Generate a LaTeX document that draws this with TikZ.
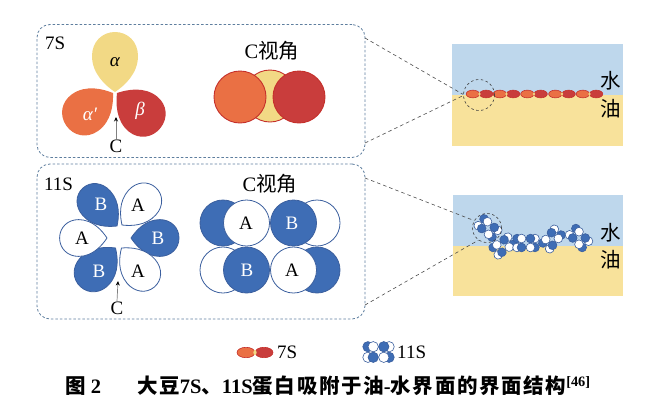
\documentclass[tikz,border=0pt]{standalone}
\usepackage{fontspec}
\setmainfont{Liberation Serif}
\newfontfamily\cjk{Noto Sans CJK SC}
\newfontfamily\cjkcap[LetterSpace=8]{Noto Sans CJK SC}
\usetikzlibrary{arrows.meta}

\definecolor{panelblue}{HTML}{5E7E9E}
\definecolor{lobeyellow}{HTML}{F2D985}
\definecolor{lobeorange}{HTML}{EA7044}
\definecolor{lobered}{HTML}{C93D3C}
\definecolor{edgered}{HTML}{C5302B}
\definecolor{subblue}{HTML}{3E6DB5}
\definecolor{edgeblue}{HTML}{3B5F9E}
\definecolor{waterblue}{HTML}{BED7EC}
\definecolor{oilyellow}{HTML}{F8E29B}

\tikzset{
  panel/.style={draw=panelblue,line width=.8pt,dash pattern=on 2.5pt off 2pt,rounded corners=13pt,inner sep=0pt},
  lens/.style={draw=black!75,circle,line width=.6pt,dash pattern=on 2.5pt off 2.5pt,inner sep=0pt},
  guide/.style={draw=black!70,line width=.6pt,dash pattern=on 3.5pt off 3pt},
  lbl/.style={font=\fontsize{19}{21}\selectfont,inner sep=0pt},
  cjklbl/.style={font=\fontsize{20.5}{23}\selectfont,inner sep=0pt},
  caplbl/.style={inner sep=0pt,anchor=west,font=\fontsize{20.5}{23}\selectfont\bfseries},
  discline/.style={line width=.8pt},
  bluedisc/.style={discline,draw=edgeblue,fill=subblue},
  whitedisc/.style={discline,draw=edgeblue,fill=white},
  upC/.style={draw=black!50,line width=.7pt,-{Stealth[black,length=4.5pt,width=4pt]}},
  lobe/.pic={
    \path[pic actions] (0,0) .. controls (6,-9) and (18,-23) .. (36,-23)
      .. controls (50,-23) and (60,-13) .. (60,0)
      .. controls (60,13) and (50,23) .. (36,23)
      .. controls (18,23) and (6,9) .. (0,0) -- cycle;
  },
  mol7/.pic={
    \draw[draw=edgered,line width=.6pt,fill=lobeorange] (-9,0) ellipse (9 and 5.2);
    \draw[draw=edgered,line width=.6pt,fill=lobered] (9,0) ellipse (9 and 5.2);
    \fill[lobeyellow] (0,0) ellipse (1.6 and 2.6);
  },
  mol11/.pic={
    \path[bluedisc] (-47,-23.5) circle (23);
    \path[whitedisc] (47,-23.5) circle (23);
    \path[whitedisc] (-47,23.5) circle (23);
    \path[bluedisc] (47,23.5) circle (23);
    \path[whitedisc] (-23.5,-23.5) circle (23);
    \path[bluedisc] (23.5,-23.5) circle (23);
    \path[bluedisc] (-23.5,23.5) circle (23);
    \path[whitedisc] (23.5,23.5) circle (23);
  }
}

\begin{document}
\begin{tikzpicture}[x=1pt,y=-1pt]
\useasboundingbox (0,0) rectangle (660,405);

% panels
\node[panel,minimum width=328pt,minimum height=133pt] (box7) at (201,91) {};
\node[panel,minimum width=328pt,minimum height=155pt] (box11) at (201,241.5) {};
\node[lbl,anchor=west] (name7) at (45,43) {7S};
\node[lbl,anchor=west] (name11) at (44,184) {11S};

% 7S lobes
\pic[fill=lobeyellow,rotate=90] at (115,92) {lobe};
\pic[fill=lobeorange,rotate=215,xscale=.95,yscale=.98] at (113,93) {lobe};
\pic[fill=lobered,rotate=-39,xscale=.93,yscale=.98] at (117,93) {lobe};
\node[lbl] (alpha) at (115,62) {\textit{α}};
\node[lbl,text=white] (alphap) at (90,114) {\textit{α′}};
\node[lbl,text=white] (beta) at (140,111) {\textit{β}};
\node[lbl] (c7) at (116,146) {C};
\coordinate (tip7) at (116,117);
\draw[upC] (c7.north) -- (tip7);

% 7S view from C
\node[cjklbl] (view7) at (272,51) {C{\cjk 视角}};
\draw[draw=edgered,line width=.9pt,fill=lobeyellow] (270,96) circle (26);
\draw[draw=edgered,line width=.9pt,fill=lobeorange] (240,97) circle (26);
\draw[draw=edgered,line width=.9pt,fill=lobered] (299,97) circle (26);

% 11S lobes
\pic[bluedisc,rotate=132,xscale=.85,yscale=.8] at (117,226) {lobe};
\pic[whitedisc,rotate=48,xscale=.84,yscale=.8] at (122,225) {lobe};
\pic[bluedisc,rotate=0,xscale=.8,yscale=.8] at (131,238) {lobe};
\pic[whitedisc,rotate=-50,xscale=.85,yscale=.8] at (121.5,248) {lobe};
\pic[bluedisc,rotate=228,xscale=.87,yscale=.85] at (115.5,248) {lobe};
\pic[whitedisc,rotate=180,xscale=.79,yscale=.8] at (107,238) {lobe};
\node[lbl,text=white] (bTL) at (101,204) {B};
\node[lbl] (aTR) at (138,205) {A};
\node[lbl,text=white] (bR) at (158,238) {B};
\node[lbl] (aBR) at (138,271) {A};
\node[lbl,text=white] (bBL) at (99,271) {B};
\node[lbl] (aL) at (82,238) {A};
\node[lbl] (c11) at (117,308) {C};
\coordinate (tip11) at (118,281);
\draw[upC] (c11.north) -- (tip11);

% 11S view from C
\node[cjklbl] (view11) at (270,184) {C{\cjk 视角}};
\pic at (270,246.5) {mol11};
\node[lbl] (aV1) at (246,223) {A};
\node[lbl,text=white] (bV1) at (292,223) {B};
\node[lbl,text=white] (bV2) at (247,270) {B};
\node[lbl] (aV2) at (292,270) {A};

% 7S interface
\fill[waterblue] (452,44) rectangle (623,95);
\fill[oilyellow] (452,95) rectangle (623,146);
\pic[scale=.74] at (479.5,94) {mol7};
\pic[scale=.74] at (506.5,94) {mol7};
\pic[scale=.74] at (534,94) {mol7};
\pic[scale=.74] at (562,94) {mol7};
\pic[scale=.74] at (589.5,94) {mol7};
\node[lens,minimum size=31pt] (lens7) at (479,95) {};
\node[cjklbl] (water7) at (611,81) {\cjk 水};
\node[cjklbl] (oil7) at (611,109) {\cjk 油};
\coordinate (a7) at (365,38);
\coordinate (b7) at (365,143);
\draw[guide] (a7) -- (lens7.178);
\draw[guide] (b7) -- (lens7.182);

% 11S interface
\fill[waterblue] (453,195) rectangle (623,246);
\fill[oilyellow] (453,246) rectangle (623,296);
\begin{scope}[discline/.style={line width=.6pt}]
\pic[scale=.19,rotate=-40] at (488,228) {mol11};
\pic[scale=.19,rotate=35] at (503,246) {mol11};
\pic[scale=.19] at (526,243) {mol11};
\pic[scale=.19,rotate=50] at (552,239) {mol11};
\pic[scale=.19,rotate=-45] at (579,238) {mol11};
\end{scope}
\node[lens,minimum size=29pt] (lens11) at (487,228) {};
\node[cjklbl] (water11) at (611,233) {\cjk 水};
\node[cjklbl] (oil11) at (611,260) {\cjk 油};
\coordinate (a11) at (365,178);
\coordinate (b11) at (365,305);
\draw[guide] (a11) -- (lens11.150);
\draw[guide] (b11) -- (lens11.235);

% legend
\pic at (255,352.5) {mol7};
\node[lbl,anchor=west] (key7) at (277,352) {7S};
\begin{scope}[discline/.style={line width=.6pt}]
\pic[scale=.225] at (378.5,352) {mol11};
\end{scope}
\node[lbl,anchor=west] (key11) at (397,352) {11S};

% caption
\node[caplbl] (fig) at (65,386) {{\cjk 图} 2};
\node[caplbl] (title) at (137,386)
  {{\cjkcap 大豆}7S{\cjkcap 、}11S{\cjkcap 蛋白吸附于油}-{\cjkcap 水界面的界面结构}\textsuperscript{[46]}};

\end{tikzpicture}
\end{document}
